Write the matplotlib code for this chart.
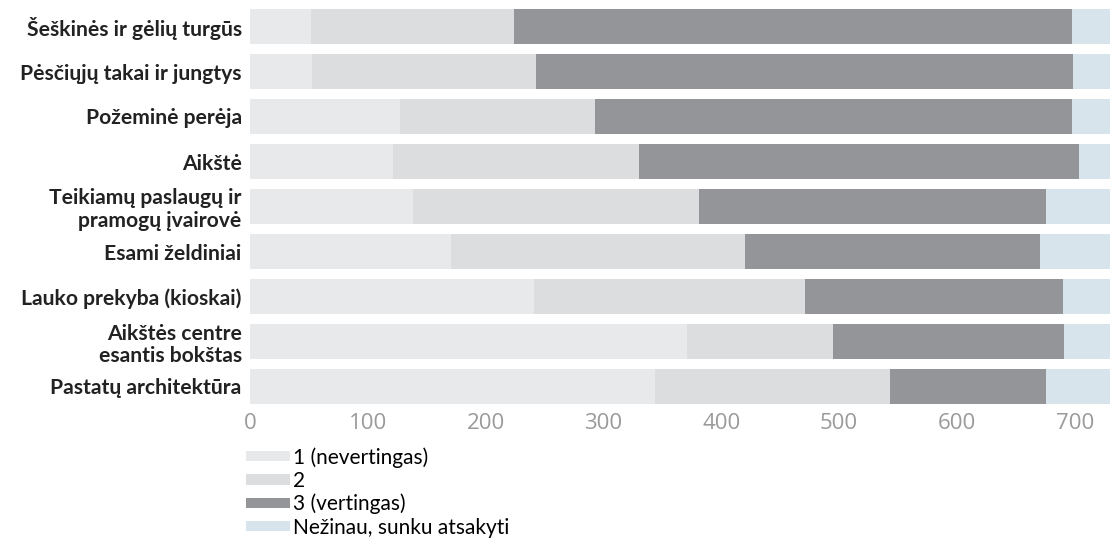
import matplotlib.pyplot as plt
import numpy as np

categories = [
    "Šeškinės ir gėlių turgūs",
    "Pėsčiųjų takai ir jungtys",
    "Požeminė perėja",
    "Aikštė",
    "Teikiamų paslaugų ir\npramogų įvairovė",
    "Esami želdiniai",
    "Lauko prekyba (kioskai)",
    "Aikštės centre\nesantis bokštas",
    "Pastatų architektūra",
]
series_names = ["1 (nevertingas)", "2", "3 (vertingas)", "Nežinau, sunku atsakyti"]
v1 = [52, 53, 127, 121, 138, 171, 241, 371, 344]
v2 = [172, 190, 166, 209, 243, 249, 230, 124, 199]
v3 = [474, 456, 405, 374, 295, 251, 219, 196, 133]
v4 = [32, 31, 32, 26, 54, 59, 40, 39, 54]
colors = ["#e8e9eb", "#dcdddf", "#939598", "#d7e4ec"]
xticks = [0, 100, 200, 300, 400, 500, 600, 700]

fig = plt.figure(figsize=(11.1, 5.45), dpi=100)
ax = fig.add_axes([250 / 1110, 1 - 409 / 545, 1 - 250 / 1110, 405 / 545])

y = np.arange(len(categories))
left = np.zeros(len(categories))
for vals, name, c in zip([v1, v2, v3, v4], series_names, colors):
    ax.barh(y, vals, left=left, height=0.78, color=c, label=name, edgecolor="none")
    left += np.array(vals)

ax.set_xlim(0, 730)
ax.set_ylim(8.5, -0.5)
ax.set_yticks(y)
ax.set_yticklabels(categories, family="Lato", fontweight="bold", fontsize=15.2,
                   color="#222222", linespacing=1.15)
ax.set_xticks(xticks)
ax.set_xticklabels([str(t) for t in xticks], family="Open Sans",
                   fontsize=16, color="#9a9a9a")
ax.tick_params(axis="both", length=0)
ax.tick_params(axis="x", pad=3)
ax.tick_params(axis="y", pad=6)
for s in ax.spines.values():
    s.set_visible(False)

handles, labels = ax.get_legend_handles_labels()
fig.legend(handles, labels, loc="upper left", bbox_to_anchor=(246 / 1110, 1 - 447 / 545),
           frameon=False, prop={"family": "Lato", "size": 15},
           handlelength=2.1, handleheight=0.4, handletextpad=0.15,
           labelspacing=0.15, borderpad=0, borderaxespad=0)

fig.savefig("out.png", dpi=100)
